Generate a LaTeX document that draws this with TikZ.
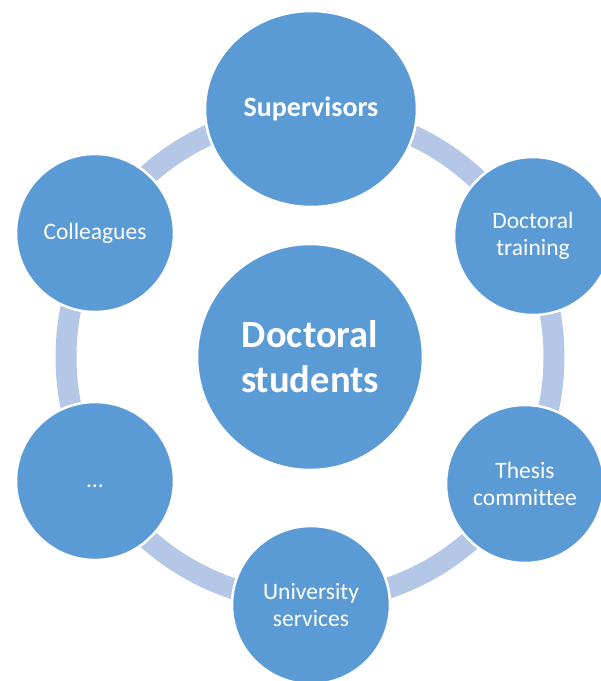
\documentclass[tikz,border=0pt]{standalone}
\usepackage{fontspec}
\setmainfont{Carlito}[Ligatures=NoCommon]
\usetikzlibrary{shapes.geometric,backgrounds}
\definecolor{disc}{RGB}{91,155,213}
\definecolor{band}{RGB}{180,199,231}
\tikzset{
  role/.style={circle,fill=disc,draw=white,line width=2.5pt,inner sep=0pt,
    minimum size=158pt,text=white,align=center,
    font=\fontsize{23.5}{27}\selectfont},
  lead/.style={role,ellipse,minimum width=212pt,minimum height=196pt,
    font=\fontsize{28}{33}\selectfont\bfseries},
  hub/.style={role,minimum size=226pt,font=\fontsize{38.5}{45}\selectfont\bfseries},
  loop/.style={draw=band,line width=21pt},
}
\begin{document}
\begin{tikzpicture}[x=1pt,y=-1pt]
  \useasboundingbox (0,0) rectangle (601,681);
  \node[hub] (students) at (310,357) {Doctoral\\students};
  \node[lead] (sup) at (311,109) {Supervisors};
  \node[role] (train) at (533,236) {Doctoral\\training};
  \node[role] (thesis) at (525,484) {Thesis\\committee};
  \node[role] (univ) at (311,605) {University\\services};
  \node[role] (etc) at (95,481) {\smash{\raisebox{-6.5pt}{…}}};
  \node[role] (coll) at (95,233) {Colleagues};
  \begin{scope}[on background layer]
    \draw[loop] (students.center) circle[radius=244pt];
  \end{scope}
\end{tikzpicture}
\end{document}
